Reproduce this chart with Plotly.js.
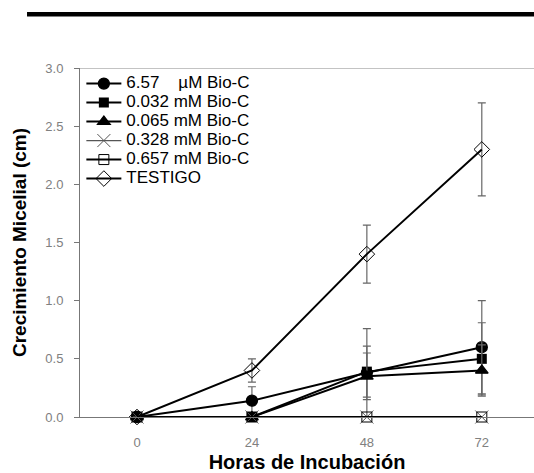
<!DOCTYPE html>
<html>
<head>
<meta charset="utf-8">
<script src="https://cdn.plot.ly/plotly-3.0.1.min.js"></script>
<style>html,body{margin:0;padding:0;background:#fff;}#chart{width:534px;height:473px;}</style>
</head>
<body>
<div id="chart"></div>
<script>
// ---- data ----
const hours = [0, 24, 48, 72];
const tickLabels = ["0", "24", "48", "72"];
const seriesNames = ["6.57\u00a0\u00a0\u00a0\u00a0µM Bio-C", "0.032 mM Bio-C", "0.065 mM Bio-C", "0.328 mM Bio-C", "0.657 mM Bio-C", "TESTIGO"];
const bio657uM = [0, 0.14, 0.38, 0.60];
const bio657uMErr = [null, 0.12, 0.38, 0.40];
const bio032mM = [0, 0, 0.39, 0.50];
const bio032mMErr = [null, null, 0.22, 0.31];
const bio065mM = [0, 0, 0.35, 0.40];
const bio065mMErr = [null, null, 0.20, 0.22];
const bio328mM = [0, 0, 0, 0];
const bio657mM = [0, 0, 0, 0];
const testigo = [0, 0.40, 1.40, 2.30];
const testigoErr = [null, 0.10, 0.25, 0.40];

const legendName = (s) => '<span style="font-size:17px">' + s + '</span>';
const errStyle = (arr) => ({type: 'data', array: arr, visible: true, color: '#666', thickness: 1.2, width: 4});
const mk = (name, y, err, symbol, opts) => Object.assign({
  type: 'scatter', mode: 'lines+markers', name: legendName(name), x: hours, y: y,
  line: {color: '#000', width: 2},
  marker: {symbol: symbol, size: 11, color: '#000', line: {color: '#000', width: 1.3}},
  error_y: err ? errStyle(err) : {visible: false},
  cliponaxis: false
}, opts || {});

const traces = [
  mk(seriesNames[0], bio657uM, bio657uMErr, 'circle'),
  mk(seriesNames[1], bio032mM, bio032mMErr, 'square', {marker: {symbol: 'square', size: 10, color: '#000'}}),
  mk(seriesNames[2], bio065mM, bio065mMErr, 'triangle-up'),
  mk(seriesNames[3], bio328mM, null, 'x-thin-open', {line: {color: '#555', width: 1.2}, marker: {symbol: 'x-thin-open', size: 13, color: '#555', line: {color: '#555', width: 1}}}),
  mk(seriesNames[4], bio657mM, null, 'square-open', {marker: {symbol: 'square-open', size: 10, color: '#000', line: {color: '#000', width: 1}}}),
  mk(seriesNames[5], testigo, testigoErr, 'diamond-open', {marker: {symbol: 'diamond-open', size: 12, color: '#000', line: {color: '#000', width: 1}}})
];

const layout = {
  width: 534, height: 473,
  margin: {l: 80, r: 0, t: 68, b: 56, pad: 0},
  paper_bgcolor: '#fff', plot_bgcolor: '#fff',
  font: {family: 'Liberation Sans, Arial, sans-serif', color: '#000'},
  showlegend: true,
  legend: {
    x: 0.003, y: 0.997, xanchor: 'left', yanchor: 'top',
    bgcolor: '#fff', borderwidth: 0, itemwidth: 35,
    font: {size: 12, color: '#000', family: 'Liberation Sans, Arial, sans-serif'},
    tracegroupgap: 0
  },
  xaxis: {
    range: [-11.9, 82.9],
    tickvals: hours, ticktext: tickLabels,
    ticks: '', showgrid: false, zeroline: false, ticklabelstandoff: 13,
    showline: true, linecolor: '#777', linewidth: 1,
    tickfont: {size: 13, color: '#808080'},
    title: {text: '<b>Horas de Incubación</b>', font: {size: 20, color: '#000'}, standoff: 7}
  },
  yaxis: {
    range: [0, 3], dtick: 0.5, tickformat: '.1f',
    ticks: 'outside', ticklen: 5, tickcolor: '#777', tickwidth: 1, ticklabelstandoff: 8,
    showgrid: false, zeroline: false,
    showline: true, linecolor: '#777', linewidth: 1,
    tickfont: {size: 13, color: '#808080'},
    title: {text: '<b>Crecimiento Micelial (cm)</b>', font: {size: 19, color: '#000'}, standoff: 13}
  },
  shapes: [
    {type: 'line', xref: 'paper', yref: 'y', x0: 0, x1: 1, y0: 3, y1: 3, line: {color: '#888', width: 1}},
    {type: 'line', xref: 'paper', yref: 'paper', x0: -0.1167, x1: 1.01, y0: 1.1539, y1: 1.1539, line: {color: '#000', width: 4.5}}
  ]
};

Plotly.newPlot('chart', traces, layout, {displayModeBar: false, staticPlot: true});
</script>
</body>
</html>
